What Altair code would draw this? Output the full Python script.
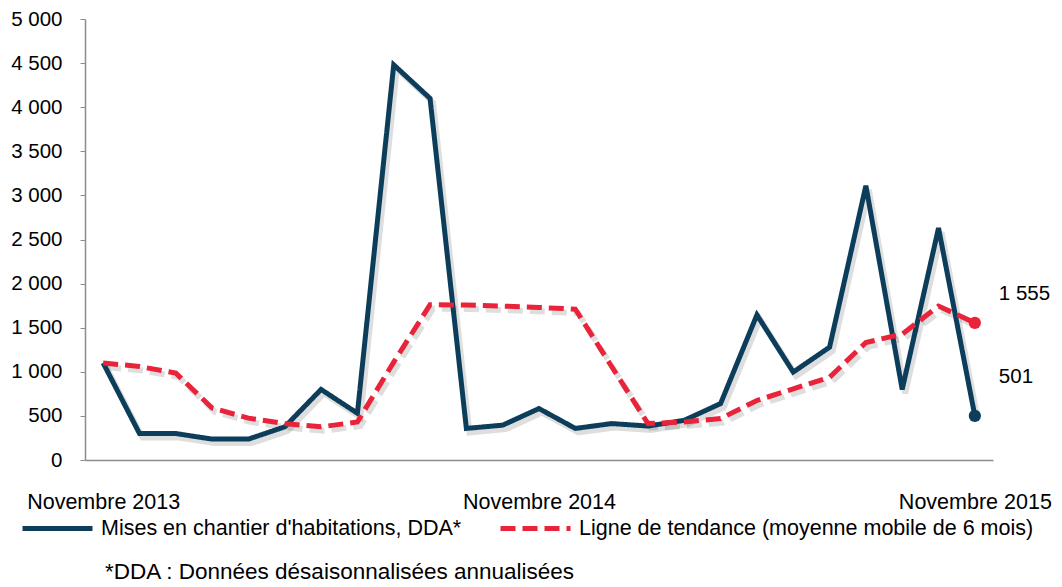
import altair as alt
import pandas as pd

months = ["2013-11", "2013-12", "2014-01", "2014-02", "2014-03", "2014-04", "2014-05",
          "2014-06", "2014-07", "2014-08", "2014-09", "2014-10", "2014-11", "2014-12",
          "2015-01", "2015-02", "2015-03", "2015-04", "2015-05", "2015-06", "2015-07",
          "2015-08", "2015-09", "2015-10", "2015-11"]
mises = [1100, 300, 300, 237, 237, 376, 800, 530, 4480, 4100, 358, 395, 583, 358, 413,
         385, 450, 640, 1645, 997, 1279, 3110, 800, 2630, 501]
tendance = [1100, 1060, 985, 590, 475, 413, 376, 431, 1110, 1760, 1757, 1745, 1730, 1710,
            1060, 413, 431, 470, 675, 807, 938, 1332, 1427, 1745, 1555]
series_names = ["Mises en chantier d'habitations, DDA*",
                "Ligne de tendance (moyenne mobile de 6 mois)"]
y_ticks = [0, 500, 1000, 1500, 2000, 2500, 3000, 3500, 4000, 4500, 5000]
footnote = "*DDA : Données désaisonnalisées annualisées"

FONT = "Liberation Sans"
W, H = 908, 441
DARK, RED = "#0c3e5c", "#e8233a"
DASH = [15, 7]

rows = []
for i, m in enumerate(months):
    rows.append({"month": m, "idx": i, "series": series_names[0], "value": mises[i]})
    rows.append({"month": m, "idx": i, "series": series_names[1], "value": tendance[i]})
df = pd.DataFrame(rows)
last = len(months) - 1

color_scale = alt.Scale(domain=series_names, range=[DARK, RED])
dash_scale = alt.Scale(domain=series_names, range=[[1, 0], DASH])

legend = alt.Legend(orient="none", legendX=-65, legendY=472, direction="horizontal",
                    title=None, symbolType="stroke", symbolSize=4900, symbolStrokeWidth=5,
                    labelFont=FONT, labelFontSize=21.5, labelColor="black", labelOffset=6,
                    columnPadding=28, padding=0, labelLimit=700, symbolOpacity=1)

x_main = alt.X("month:O", sort=months, scale=alt.Scale(type="point", padding=0.5),
               axis=alt.Axis(title=None, ticks=False, tickSize=0, grid=False,
                             labelAngle=0, labelOverlap=False, labelPadding=31,
                             labelFont=FONT, labelFontSize=21.5, labelColor="black",
                             domainColor="#8c8c8c", domainWidth=1.5,
                             labelExpr="slice(datum.value, 5) == '11' ? 'Novembre ' + slice(datum.value, 0, 4) : ''"))
y_main = alt.Y("value:Q", scale=alt.Scale(domain=[0, 5000]),
               axis=alt.Axis(title=None, values=y_ticks, tickSize=5, tickColor="#8c8c8c",
                             domainColor="#8c8c8c", domainWidth=1.5,
                             gridColor="#ebe7da", gridWidth=1.3,
                             labelFont=FONT, labelFontSize=20.5, labelColor="black",
                             labelPadding=18,
                             labelExpr="replace(format(datum.value, ','), ',', ' ')"))

base = alt.Chart(df)

# soft drop shadow: same data drawn with scales shifted by a few pixels
sh_x = alt.X("month:O", sort=months,
             scale=alt.Scale(type="point", padding=0.5, range=[3, W + 3]), axis=None)
sh_y = alt.Y("value:Q", scale=alt.Scale(domain=[0, 5000], range=[H + 4, 4]), axis=None)
shadow0 = base.transform_filter(alt.datum.series == series_names[0]).mark_line(
    strokeWidth=6, color="#000000", opacity=0.13).encode(x=sh_x, y=sh_y)
shadow1 = base.transform_filter(alt.datum.series == series_names[1]).mark_line(
    strokeWidth=6, color="#000000", opacity=0.13, strokeDash=DASH).encode(x=sh_x, y=sh_y)
shadow = alt.layer(shadow0, shadow1)

lines = base.mark_line(strokeWidth=5).encode(
    x=x_main, y=y_main,
    color=alt.Color("series:N", scale=color_scale, legend=legend),
    strokeDash=alt.StrokeDash("series:N", scale=dash_scale, legend=legend),
)

dots = base.transform_filter(alt.datum.idx == last).mark_circle(size=150, opacity=1).encode(
    x=alt.X("month:O", sort=months), y="value:Q",
    color=alt.Color("series:N", scale=color_scale, legend=None),
)

lab_base = base.transform_filter(alt.datum.idx == last).transform_calculate(
    label="replace(format(datum.value, ','), ',', ' ')")
lab1 = lab_base.transform_filter(alt.datum.series == series_names[1]).mark_text(
    align="left", baseline="middle", dx=24, dy=-29, font=FONT, fontSize=20.5, color="black"
).encode(x=alt.X("month:O", sort=months), y="value:Q", text="label:N")
lab0 = lab_base.transform_filter(alt.datum.series == series_names[0]).mark_text(
    align="left", baseline="middle", dx=24, dy=-39, font=FONT, fontSize=20.5, color="black"
).encode(x=alt.X("month:O", sort=months), y="value:Q", text="label:N")

note = alt.Chart(pd.DataFrame({"note": [footnote]})).mark_text(
    align="left", baseline="middle", font=FONT, fontSize=22.5, color="black"
).encode(x=alt.value(20), y=alt.value(553), text="note:N")

main = alt.layer(lines, dots, lab1, lab0, note)

chart = alt.layer(shadow, main).resolve_scale(
    x="independent", y="independent"
).resolve_legend(color="independent", strokeDash="independent").properties(
    width=W, height=H,
    autosize=alt.AutoSizeParams(type="none"),
    padding={"left": 77, "top": 11, "right": 60, "bottom": 130},
    background="white",
).configure_view(stroke=None)

chart.save("out.html", embed_options={"renderer": "svg", "actions": False})
